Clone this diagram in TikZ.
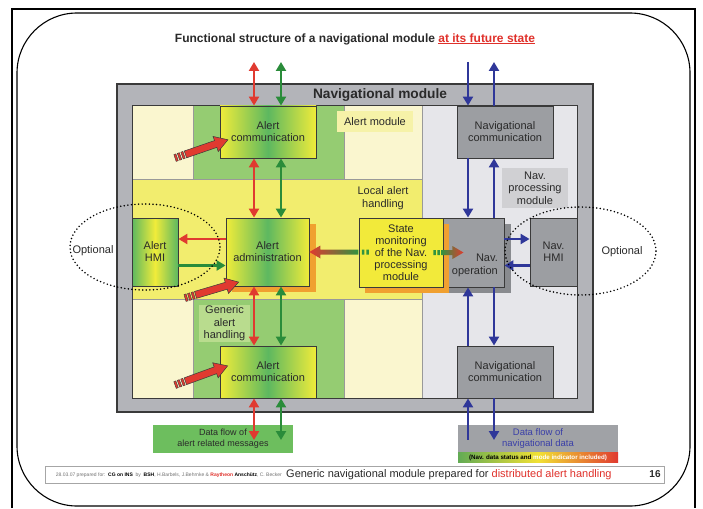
\documentclass[tikz,border=0pt]{standalone}
\usepackage{fontspec}
\setmainfont{Liberation Sans}
\usetikzlibrary{arrows.meta,calc}

\definecolor{modgray}{HTML}{B3B4B9}
\definecolor{navbg}{HTML}{E6E6EA}
\definecolor{paleyel}{HTML}{FAF6CF}
\definecolor{colgreen}{HTML}{95CC72}
\definecolor{bandyel}{HTML}{F2ED6E}
\definecolor{boxyel}{HTML}{F2EA3A}
\definecolor{gradgreen}{HTML}{5DB860}
\definecolor{gradyel}{HTML}{F0EC3A}
\definecolor{shadorange}{HTML}{F0A030}
\definecolor{boxgray}{HTML}{9C9EA2}
\definecolor{shadgray}{HTML}{898B8F}
\definecolor{lblgray}{HTML}{D0D0D3}
\definecolor{lblyel}{HTML}{F6F2A8}
\definecolor{lblgreen}{HTML}{B9DC8E}
\definecolor{flowgreen}{HTML}{6DBE5E}
\definecolor{flowgray}{HTML}{A0A2A6}
\definecolor{aRed}{HTML}{E03A30}
\definecolor{aGreen}{HTML}{2A8C3A}
\definecolor{aBlue}{HTML}{2F3799}
\definecolor{txtblue}{HTML}{3A3FA8}
\definecolor{txtdark}{HTML}{2A2A2A}
\definecolor{frameedge}{HTML}{3A3A3A}
\definecolor{titlered}{HTML}{E0302A}

\tikzset{
  region/.style={draw=black!40,line width=0.5pt},
  box/.style={draw=frameedge,line width=0.9pt,inner sep=0pt,align=center,
    text=txtdark,font=\fontsize{11}{12}\selectfont},
  agrad/.style={box,left color=gradyel,right color=gradyel,middle color=gradgreen},
  hgrad/.style={box,left color=gradgreen,right color=gradgreen,middle color=gradyel},
  graybox/.style={box,fill=boxgray},
  lbl/.style={inner sep=0pt,align=center,text=txtdark,font=\fontsize{11}{12.5}\selectfont},
  flowR/.style={draw=aRed,line width=2.6pt},
  flowG/.style={draw=aGreen,line width=2.6pt},
  flowB/.style={draw=aBlue,line width=2.6pt},
  optring/.style={draw=black,line width=1.7pt,dash pattern=on 0pt off 3.6pt,line cap=round},
  pics/fatarrow/.style={code={
    \filldraw[fill=aRed,draw=frameedge,line width=0.5pt]
      (11,-3.6) -- (43,-3.6) -- (43,-8) -- (56,0) -- (43,8) -- (43,3.6) -- (11,3.6) -- cycle;
    \foreach \s in {0,3.7,7.4}
      \filldraw[fill=aRed,draw=frameedge,line width=0.4pt] (\s,-3.6) rectangle ++(2.2,7.2);
  }}
}

\begin{document}
\begin{tikzpicture}[x=1pt,y=-1pt,>={Triangle[length=9pt,width=10pt]}]
\useasboundingbox (0,0) rectangle (703,508);
\fill[white] (0,0) rectangle (703,508);

% page frame
\draw[line width=1.6pt] (12,508) -- (12,9) -- (695,9) -- (695,508);
\draw[line width=1.1pt,rounded corners=60pt] (17,13) rectangle (690,506);

% heading
\node[font=\bfseries\fontsize{12}{14}\selectfont,text=txtdark] (title) at (355,39)
  {Functional structure of a navigational module \textcolor{titlered}{\underline{at its future state}}};

% module frame and its regions
\filldraw[fill=modgray,draw=frameedge,line width=1.5pt] (117,84) rectangle (593,412);
\node[font=\bfseries\fontsize{13.7}{16}\selectfont,text=txtdark] (modTitle) at (380,95) {Navigational module};
\fill[navbg] (422,106) rectangle (577,398);
\fill[paleyel] (132,106) rectangle (422,179);
\fill[colgreen] (193,106) rectangle (344,179);
\fill[bandyel] (132,179) rectangle (422,299);
\fill[paleyel] (132,299) rectangle (422,398);
\fill[colgreen] (193,299) rectangle (344,398);
\draw[region] (193,106) -- (193,179) (344,106) -- (344,179)
              (193,299) -- (193,398) (344,299) -- (344,398)
              (132,179) -- (422,179) (132,299) -- (422,299) (422,106) -- (422,398);
\draw[frameedge,line width=1pt] (132,106) rectangle (577,398);

% region labels
\node[lbl,fill=lblyel,minimum width=76pt,minimum height=21pt] (alertModLbl) at (375,121.5) {Alert module};
\node[lbl,fill=lblgray,minimum width=66pt,minimum height=40pt] (navProcLbl) at (535,188) {Nav.\\processing\\module};
\node[lbl] (localLbl) at (383,198) {Local alert\\handling};
\node[lbl,fill=lblgreen,minimum width=51pt,minimum height=37pt] (genericLbl) at (224.5,323.5) {Generic\\alert\\handling};

% functional blocks
\node[agrad,minimum width=96pt,minimum height=52pt] (commTop) at (268,132) {Alert\\communication};
\node[agrad,minimum width=96pt,minimum height=52pt] (commBot) at (268,372) {Alert\\communication};
\fill[shadorange] (232,224) rectangle (316,292);
\node[agrad,minimum width=83pt,minimum height=68pt] (admin) at (267.5,252) {Alert\\administration};
\node[hgrad,minimum width=46pt,minimum height=68pt] (alertHMI) at (155,252) {Alert\\HMI};
\fill[shadgray] (449,224) rectangle (511,293);
\node[graybox,minimum width=61pt,minimum height=69pt] (navOp) at (473.5,252.5) {};
\node[lbl,anchor=east,align=right] (navOpLbl) at (498,265.5) {Nav.\\operation};
\fill[shadorange] (365,224) rectangle (449,293);
\node[box,fill=boxyel,minimum width=84pt,minimum height=69pt] (stateMon) at (401,252.5)
  {State\\monitoring\\of the Nav.\\processing\\module};
\node[graybox,minimum width=47pt,minimum height=68pt] (navHMI) at (553.5,252) {Nav.\\HMI};
\node[graybox,minimum width=96pt,minimum height=52pt] (navCommTop) at (505,132) {Navigational\\communication};
\node[graybox,minimum width=96pt,minimum height=52pt] (navCommBot) at (505,372) {Navigational\\communication};

% external data flows
\node[fill=flowgreen,minimum width=140pt,minimum height=28pt,inner sep=0pt,align=center,
  text=txtdark,font=\fontsize{9}{11}\selectfont] (alertFlow) at (223,439)
  {Data flow of\\alert related messages};
\node[fill=flowgray,minimum width=160pt,minimum height=27pt,inner sep=0pt,align=center,
  text=txtblue,font=\fontsize{9.5}{10.5}\selectfont] (navFlow) at (538,438.5)
  {Data flow of\\navigational data};
\node[left color=flowgreen!90!black,right color=aRed,middle color=gradyel!90!orange,
  minimum width=160pt,minimum height=10pt,inner sep=0pt,anchor=north,
  font=\bfseries\fontsize{6.2}{7}\selectfont] (navFlowStrip) at (navFlow.south)
  {(Nav. data status and \textcolor{white}{mode indicator included)}};

% columns of the vertical flows
\coordinate (redX) at (254,0);
\coordinate (grnX) at (281,0);
\coordinate (bluL) at (468,0);
\coordinate (bluR) at (494,0);
\coordinate (redTop) at (254,62);
\coordinate (grnTop) at (281,62);
\coordinate (bluLTop) at (468,62);
\coordinate (bluRTop) at (494,62);
\coordinate (redEnd) at (254,440);
\coordinate (grnEnd) at (281,440);
\coordinate (bluLEnd) at (468,440);
\coordinate (bluREnd) at (494,440);
\coordinate (rowUp) at (0,239);
\coordinate (rowLo) at (0,265.5);

% alert message flows
\draw[flowR,<->] (redTop) -- (commTop.north -| redX);
\draw[flowG,<->] (grnTop) -- (commTop.north -| grnX);
\draw[flowR,<->] (commTop.south -| redX) -- (admin.north -| redX);
\draw[flowG,<->] (commTop.south -| grnX) -- (admin.north -| grnX);
\draw[flowR,<->] (admin.south -| redX) -- (commBot.north -| redX);
\draw[flowG,<->] (admin.south -| grnX) -- (commBot.north -| grnX);
\draw[flowR,<->] (commBot.south -| redX) -- (redEnd);
\draw[flowG,<->] (commBot.south -| grnX) -- (grnEnd);
\draw[flowR,->] (admin.west |- rowUp) -- (alertHMI.east |- rowUp);
\draw[flowG,->] (alertHMI.east |- rowLo) -- (admin.west |- rowLo);

% navigational data flows
\draw[flowB,->] (bluLTop) -- (navCommTop.north -| bluL);
\draw[flowB,<-] (bluRTop) -- (navCommTop.north -| bluR);
\draw[flowB,->] (navCommTop.south -| bluL) -- (navOp.north -| bluL);
\draw[flowB,<-] (navCommTop.south -| bluR) -- (navOp.north -| bluR);
\draw[flowB,<-] (navOp.south -| bluL) -- (navCommBot.north -| bluL);
\draw[flowB,->] (navOp.south -| bluR) -- (navCommBot.north -| bluR);
\draw[flowB,<-] (navCommBot.south -| bluL) -- (bluLEnd);
\draw[flowB,->] (navCommBot.south -| bluR) -- (bluREnd);
\draw[flowB,->] (navOp.east |- rowUp) -- (navHMI.west |- rowUp);
\draw[flowB,->] (navHMI.west |- rowLo) -- (navOp.east |- rowLo);

% state monitoring outputs
\shade[left color=aRed,right color=aGreen!85!gradgreen]
  (admin.east) -- ++(11,-6.5) -- ++(0,4) -- ++(38,0) -- ++(0,5) -- ++(-38,0) -- ++(0,4) -- cycle;
\fill[aGreen!85!gradgreen] ($(admin.east)+(52.5,-2.5)$) rectangle ++(2.5,5)
                          ($(admin.east)+(57,-2.5)$) rectangle ++(2.5,5);
\fill[aGreen!85!gradgreen] ($(stateMon.east)+(-10,-2.5)$) rectangle ++(2.5,5)
                          ($(stateMon.east)+(-6,-2.5)$) rectangle ++(2.5,5);
\shade[left color=aGreen!85!gradgreen,right color=aRed]
  ($(stateMon.east)+(-2,-2.5)$) -- ++(11,0) -- ++(0,-4) -- ++(11,6.5) -- ++(-11,6.5) -- ++(0,-4) -- ++(-11,0) -- cycle;

% external alert inputs
\pic[rotate=19] (inA) at (175,158) {fatarrow};
\pic[rotate=16.5] (inB) at (185,298) {fatarrow};
\pic[rotate=20] (inC) at (175,385) {fatarrow};

% optional HMIs
\draw[optring] (145,247) ellipse [x radius=75pt,y radius=43pt];
\draw[optring] (580.5,251) ellipse [x radius=75.5pt,y radius=44pt];
\node[lbl] (optL) at (93,251) {Optional};
\node[lbl] (optR) at (622,252) {Optional};

% footer
\node[draw=black!35,line width=0.8pt,fill=white,minimum width=619pt,minimum height=17pt,inner sep=0pt]
  (footBox) at (354.5,474.5) {};
\node[anchor=east,inner sep=0pt,font=\fontsize{5}{6}\selectfont,text=black!55] (footSmall) at (282,475)
  {28.03.07 prepared for:\ \ \textcolor{black}{\bfseries CG on INS}\ \ by\ \ \textcolor{black}{\bfseries BSH},
   H.Barbels, J.Behrnke \& \textcolor{titlered}{\bfseries Raytheon} \textcolor{black}{\bfseries Anschütz}, C. Becker};
\node[anchor=west,inner sep=0pt,font=\fontsize{11}{13}\selectfont,text=txtdark] (footMain) at (286,474.5)
  {Generic navigational module prepared for \textcolor{titlered}{distributed alert handling}};
\node[inner sep=0pt,font=\bfseries\fontsize{10}{12}\selectfont,text=txtdark] (pageNo) at (655,474.5) {16};
\end{tikzpicture}
\end{document}
